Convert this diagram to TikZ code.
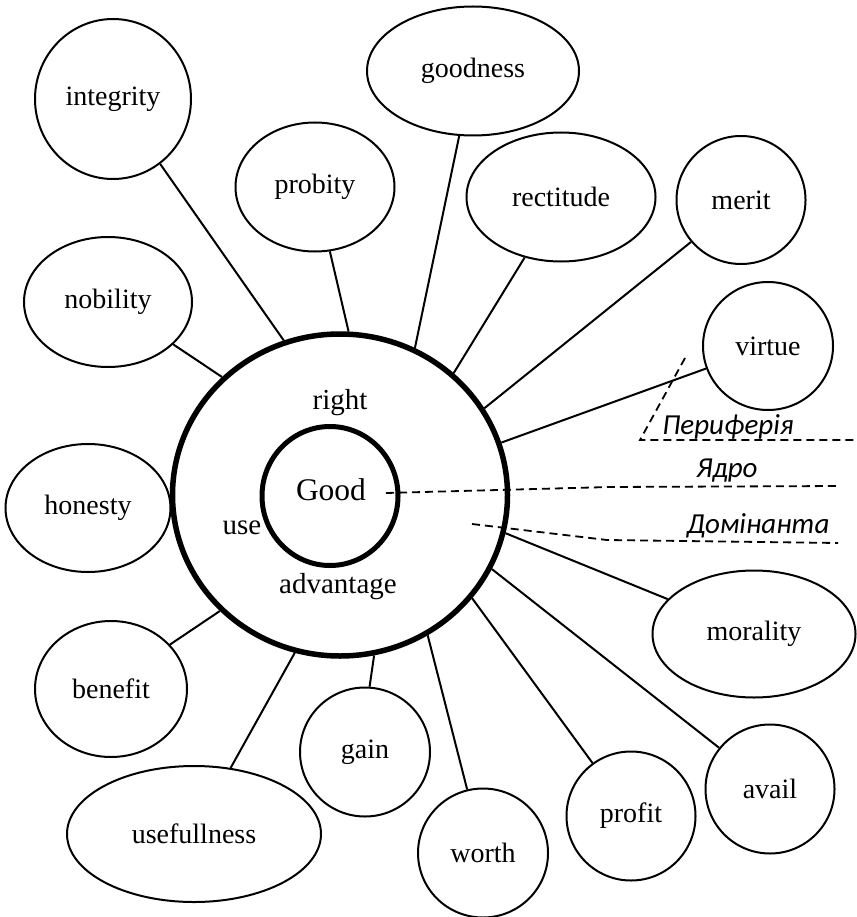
\documentclass[tikz,border=0pt]{standalone}
\usepackage{fontspec}
\setmainfont{Liberation Serif}
\newfontfamily\labfont{Carlito}
\usetikzlibrary{shapes.geometric}
\tikzset{
  x=1pt, y=1pt,
  word/.style={ellipse, draw, line width=2pt, inner sep=0pt, font=\fontsize{28}{32}\selectfont},
  big/.style={ellipse, draw, line width=5.5pt, inner sep=0pt},
  core/.style={ellipse, draw, line width=5pt, inner sep=0pt},
  conn/.style={line width=2pt},
  dashline/.style={line width=1.8pt, dash pattern=on 8pt off 5pt},
  inword/.style={inner sep=0pt, font=\fontsize{29}{32}\selectfont},
  zone/.style={inner sep=0pt, font=\labfont\itshape\fontsize{29}{32}\selectfont}
}
\begin{document}
\begin{tikzpicture}
\useasboundingbox (0,0) rectangle (856,-917);

% centre
\node[big, minimum width=335pt, minimum height=322pt] (outer) at (340,-495) {};
\node[core, minimum width=136pt, minimum height=139pt] (inner) at (330,-496) {};
\node[inner sep=0pt, font=\fontsize{31.5}{34}\selectfont] (good) at (331,-490) {Good};
\node[inword] (right) at (340,-403) {right};
\node[inword] (use) at (242,-528) {use};
\node[inword] (adv) at (338,-587) {advantage};

% outer words
\node[word, minimum width=156pt, minimum height=160pt] (integrity) at (113,-99) {integrity};
\node[word, minimum width=159pt, minimum height=129pt] (probity) at (315,-187) {probity};
\node[word, minimum width=212pt, minimum height=129pt] (goodness) at (473,-71) {goodness};
\node[word, minimum width=189pt, minimum height=129pt] (rectitude) at (561,-197) {rectitude};
\node[word, minimum width=129pt, minimum height=128pt] (merit) at (741,-200) {merit};
\node[word, minimum width=130pt, minimum height=128pt] (virtue) at (768,-346) {virtue};
\node[word, minimum width=168pt, minimum height=130pt] (nobility) at (108,-302) {nobility};
\node[word, minimum width=165pt, minimum height=128pt] (honesty) at (88,-508) {honesty};
\node[word, minimum width=152pt, minimum height=136pt] (benefit) at (111,-689) {benefit};
\node[word, minimum width=254pt, minimum height=136pt] (usefullness) at (194,-834) {usefullness};
\node[word, minimum width=130pt, minimum height=129pt] (gain) at (365,-752) {gain};
\node[word, minimum width=130pt, minimum height=129pt] (worth) at (483,-853) {worth};
\node[word, minimum width=129pt, minimum height=129pt] (profit) at (631,-816) {profit};
\node[word, minimum width=129pt, minimum height=129pt] (avail) at (770,-789) {avail};
\node[word, minimum width=203pt, minimum height=127pt] (morality) at (754,-634) {morality};

% connectors
\draw[conn] (integrity.-54) -- (outer.110);
\draw[conn] (probity.-77) -- (outer.87);
\draw[conn] (goodness.-102) -- (outer.63);
\draw[conn] (rectitude.-121) -- (outer.47);
\draw[conn] (merit.-140) -- (outer.31);
\draw[conn] (virtue.-160) -- (outer.18);
\draw[conn] (nobility.-33) -- (outer.135);
\draw[conn] (benefit.37) -- (outer.-136);
\draw[conn] (usefullness.61) -- (outer.-106);
\draw[conn] (gain.86) -- (outer.-78);
\draw[conn] (worth.104) -- (outer.-58);
\draw[conn] (profit.126) -- (outer.-38);
\draw[conn] (avail.141) -- (outer.-26);
\draw[conn] (morality.158) -- (outer.-13);

% zone lines
\coordinate (p1) at (685,-358);
\coordinate (p2) at (640,-440);
\coordinate (p3) at (856,-440);
\coordinate (c1) at (386,-493);
\coordinate (c2) at (610,-487);
\coordinate (c3) at (840,-486);
\coordinate (d1) at (472,-524);
\coordinate (d2) at (607,-540);
\coordinate (d3) at (838,-543);
\draw[dashline] (p1) -- (p2) -- (p3);
\draw[dashline] (c1) -- (c2) -- (c3);
\draw[dashline] (d1) -- (d2) -- (d3);

\node[zone] (periph) at (728,-427) {Периферія};
\node[zone] (yadro) at (727,-471) {Ядро};
\node[zone] (domin) at (758,-526) {Домінанта};
\end{tikzpicture}
\end{document}
